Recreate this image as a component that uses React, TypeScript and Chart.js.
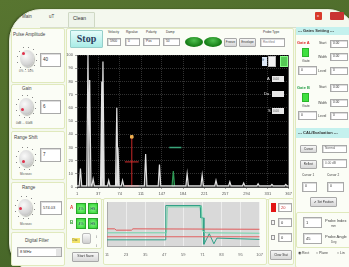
import React, { useEffect, useRef } from "react";
import { Chart, registerables } from "chart.js";
Chart.register(...registerables);

// ---------- A-scan data ----------
const peakPos = [6, 19, 22, 28, 43, 45, 55, 69, 71, 79, 119, 143, 191, 217, 241, 265, 289, 314, 338, 362];
const peakAmp = [14, 100, 81, 6, 80, 95, 5, 60, 30, 5, 25, 17, 10, 9, 5, 4, 3, 2.5, 2, 2];
const gatedPeakPos = [167];
const gatedPeakAmp = [12];
const ascanXTicks = [0, 37, 74, 111, 147, 184, 221, 257, 294, 331, 367];
const ascanXLabels = ["1", "37", "74", "111", "147", "184", "221", "257", "294", "331", "367"];
const cursorPos = [95];
const cursorAmp = [38];
const gateA = [83, 107, 19]; // start, end, level
const gateB = [160, 181, 30];

// ---------- trend data ----------
const redHiX = [0, 5, 6, 16, 17, 100];
const redHiY = [39, 39, 36, 36, 39, 38];
const redLoX = [0, 100];
const redLoY = [21, 21];
const tealAX = [0, 38, 38.5, 61, 61.5, 63, 63.5, 67, 70, 72, 100];
const tealAY = [14, 14, 92, 92, 64, 64, 4, 28, 5, 18, 15];
const tealBX = [0, 39, 39.5, 62, 62.5, 65, 100];
const tealBY = [30, 30, 89, 89, 34, 30, 29];
const trendXTicks = [0, 12.5, 25, 37.5, 50, 62.5, 75, 87.5, 100];
const trendXLabels = ["11", "23", "35", "47", "59", "71", "83", "95", "107"];

Chart.defaults.font.family = '"Liberation Sans", Arial, sans-serif';

const bgPlugin = {
  id: "areaBg",
  beforeDraw(chart: any, _a: any, opts: any) {
    const { ctx, chartArea: a } = chart;
    ctx.save();
    ctx.fillStyle = opts.color;
    ctx.fillRect(a.left, a.top, a.width, a.height);
    ctx.restore();
  },
};

function AScan() {
  const ref = useRef<HTMLCanvasElement>(null);
  useEffect(() => {
    const hw = 2.2;
    const base = 0.8;
    const idx = peakPos.map((_, i) => i).sort((a, b) => peakPos[a] - peakPos[b]);
    const wave: any[] = [{ x: 0, y: base }];
    idx.forEach((i) => {
      wave.push({ x: peakPos[i] - hw, y: base }, { x: peakPos[i], y: peakAmp[i] }, { x: peakPos[i] + hw, y: base });
    });
    wave.push({ x: 367, y: base });
    const gp: any[] = [];
    gatedPeakPos.forEach((p, i) => gp.push({ x: p - hw, y: base }, { x: p, y: gatedPeakAmp[i] }, { x: p + hw, y: base }));
    const chart = new Chart(ref.current!, {
      type: "line",
      data: {
        datasets: [
          { data: wave, borderColor: "#e2e2e2", borderWidth: 1.2, pointRadius: 0, fill: "origin", backgroundColor: "rgba(210,210,210,0.35)" },
          { data: gp, borderColor: "#2f9a55", borderWidth: 1.2, pointRadius: 0, fill: "origin", backgroundColor: "rgba(47,154,85,0.35)" },
          { data: [{ x: gateA[0], y: 1 }, { x: gateA[1], y: 1 }], borderColor: "#8a1a1a", borderWidth: 1.5, pointRadius: 0 },
          { data: [{ x: gateA[0], y: gateA[2] }, { x: gateA[1], y: gateA[2] }], borderColor: "#d83030", borderWidth: 1, pointRadius: 0 },
          {
            data: [{ x: cursorPos[0], y: 0 }, { x: cursorPos[0], y: cursorAmp[0] }],
            borderColor: "#c82828", borderWidth: 1, pointRadius: [0, 1.8], pointStyle: "rect",
            pointBackgroundColor: "#f0b050", pointBorderColor: "#f0b050",
          },
          { data: [{ x: gateB[0], y: gateB[2] }, { x: gateB[1], y: gateB[2] }], borderColor: "#3aa57a", borderWidth: 1.5, pointRadius: 0 },
        ],
      },
      options: {
        animation: false, responsive: false, events: [],
        layout: { padding: { top: 5, right: 3, left: 0, bottom: 0 } },
        plugins: { legend: { display: false }, tooltip: { enabled: false }, areaBg: { color: "#000" } } as any,
        scales: {
          x: {
            type: "linear", min: 0, max: 367,
            afterBuildTicks: (ax: any) => { ax.ticks = ascanXTicks.map((v) => ({ value: v })); },
            afterFit: (s: any) => { s.height = 13; },
            ticks: { font: { size: 4 }, color: "#555", padding: 2, maxRotation: 0, autoSkip: false,
              callback: (v: any) => ascanXLabels[ascanXTicks.indexOf(v)] ?? "" },
            grid: { color: "rgba(90,90,90,0.55)", tickLength: 2 },
            border: { color: "#444", dash: [1, 1] },
          },
          y: {
            min: 0, max: 100,
            afterFit: (s: any) => { s.width = 15; },
            ticks: { stepSize: 10, font: { size: 4 }, color: "#555", padding: 2 },
            grid: { color: "rgba(90,90,90,0.55)", tickLength: 2 },
            border: { color: "#444", dash: [1, 1] },
          },
        },
      },
      plugins: [bgPlugin],
    });
    return () => chart.destroy();
  }, []);
  return <canvas ref={ref} width={232} height={150} style={{ position: "absolute", left: 62, top: 50, width: 232, height: 150 }} />;
}

function Trend() {
  const ref = useRef<HTMLCanvasElement>(null);
  useEffect(() => {
    const pts = (xs: number[], ys: number[]) => xs.map((x, i) => ({ x, y: ys[i] }));
    const chart = new Chart(ref.current!, {
      type: "line",
      data: {
        datasets: [
          { data: pts(redHiX, redHiY), borderColor: "#e05a5a", borderWidth: 1, pointRadius: 0 },
          { data: pts(redLoX, redLoY), borderColor: "#e06060", borderWidth: 1, pointRadius: 0 },
          { data: pts(tealBX, tealBY), borderColor: "#6fd3a8", borderWidth: 1, pointRadius: 0 },
          { data: pts(tealAX, tealAY), borderColor: "#2f9f86", borderWidth: 1, pointRadius: 0 },
        ],
      },
      options: {
        animation: false, responsive: false, events: [],
        layout: { padding: { top: 5, right: 4, left: 0, bottom: 0 } },
        plugins: { legend: { display: false }, tooltip: { enabled: false }, areaBg: { color: "#d9d9d9" } } as any,
        scales: {
          x: {
            type: "linear", min: 0, max: 100,
            afterBuildTicks: (ax: any) => { ax.ticks = trendXTicks.map((v) => ({ value: v })); },
            afterFit: (s: any) => { s.height = 14; },
            ticks: { font: { size: 4 }, color: "#666", padding: 4, maxRotation: 0, autoSkip: false,
              callback: (v: any) => trendXLabels[trendXTicks.indexOf(v)] ?? "" },
            grid: { color: "rgba(255,255,255,0.5)", tickLength: 2 },
            border: { color: "#aaa" },
          },
          y: {
            min: 0, max: 100,
            afterFit: (s: any) => { s.width = 11; },
            ticks: { stepSize: 20, font: { size: 4 }, color: "#666", padding: 2 },
            grid: { display: false },
            border: { color: "#aaa" },
          },
        },
      },
      plugins: [bgPlugin],
    });
    return () => chart.destroy();
  }, []);
  return <canvas ref={ref} width={171} height={63} style={{ position: "absolute", left: 96, top: 197, width: 171, height: 63 }} />;
}

const FF = '"Liberation Sans", Arial, sans-serif';

function T({ x, y, t, s = 4, c = "#333", b = false, f = FF }: any) {
  return <div style={{ position: "absolute", left: x, top: y, fontSize: s, color: c, whiteSpace: "nowrap", lineHeight: 1, fontWeight: b ? "bold" : "normal", fontFamily: f }}>{t}</div>;
}
function R({ x, y, w, h, bg = "transparent", bd, r = 0, sh, children }: any) {
  return <div style={{ position: "absolute", left: x, top: y, width: w, height: h, background: bg, border: bd ? `1px solid ${bd}` : undefined, borderRadius: r, boxSizing: "border-box", boxShadow: sh }}>{children}</div>;
}
function Inp({ x, y, w, h, t, s = 4.5, c = "#333" }: any) {
  return (
    <R x={x} y={y} w={w} h={h} bg="#fff" bd="#a9a9a9" sh="inset 1px 1px 0 #ddd">
      <div style={{ position: "absolute", left: 2, top: (h - s) / 2 - 1, fontSize: s, lineHeight: 1, color: c, fontFamily: FF, whiteSpace: "nowrap" }}>{t}</div>
    </R>
  );
}
function Btn({ x, y, w, h, t, s = 3.5 }: any) {
  return (
    <R x={x} y={y} w={w} h={h} bg="linear-gradient(#f6f6f6,#d8d8d8)" bd="#a8a8a8" r={1}>
      <div style={{ position: "absolute", left: 0, right: 0, top: (h - s) / 2 - 1, textAlign: "center", fontSize: s, lineHeight: 1, color: "#333", fontFamily: FF, whiteSpace: "nowrap" }}>{t}</div>
    </R>
  );
}
function Panel({ x, y, w, h }: any) {
  return <R x={x} y={y} w={w} h={h} bg="#fbfdf6" bd="#e0e9bd" r={2} />;
}
const tickAngles = [-140, -110, -80, -50, -20, 10, 40, 70, 100, 130, 160, 190];
function Knob({ x, y, dx, dy }: any) {
  return (
    <div style={{ position: "absolute", left: x, top: y, width: 20, height: 23 }}>
      {tickAngles.map((a, i) => (
        <div key={i} style={{ position: "absolute", left: 10 + 10 * Math.cos((a * Math.PI) / 180) - 0.5, top: 11.5 + 11.5 * Math.sin((a * Math.PI) / 180) - 0.5, width: 1, height: 1, background: "#888" }} />
      ))}
      <div style={{ position: "absolute", left: 3, top: 3, width: 14, height: 17, borderRadius: "50%", background: "radial-gradient(circle at 40% 35%, #fafafa, #d5d5d5 60%, #a9a9a9)", boxShadow: "1px 1px 1px rgba(0,0,0,0.25)" }} />
      <div style={{ position: "absolute", left: dx, top: dy, width: 3, height: 3, borderRadius: "50%", background: "#e0304a" }} />
    </div>
  );
}
function Green({ x, y, w, h, t }: any) {
  return (
    <R x={x} y={y} w={w} h={h} bg="radial-gradient(circle, #8cf58c, #2fd52f)" bd="#27a827">
      <div style={{ position: "absolute", left: 0, right: 0, top: h / 2 - 2, textAlign: "center", fontSize: 3.5, lineHeight: 1, color: "#245", fontFamily: FF }}>{t}</div>
    </R>
  );
}

export default function App() {
  return (
    <div style={{ position: "fixed", left: 0, top: 0, width: 349, height: 267, overflow: "hidden", background: "linear-gradient(160deg,#587530,#4a6a2a 60%,#3e5a24)", fontFamily: FF }}>
      {/* window */}
      <div style={{ position: "absolute", left: 9, top: 9, width: 345, height: 262, borderRadius: "32px 28px 32px 30px", background: "#f4f8ee", border: "1px solid #e8eedc", boxShadow: "-1px 0 2px rgba(0,0,0,0.35)" }} />
      {/* tabs */}
      <R x={40} y={26.5} w={300} h={1} bg="#d8dfcc" />
      <T x={22} y={15} t="Main" s={4.5} c="#444" />
      <T x={49} y={15} t="uT" s={4.5} c="#444" />
      <R x={68} y={12} w={27} h={16} bg="#eef4ea" bd="#cfd8c4" r={1} />
      <T x={73} y={16} t="Clean" s={5} c="#333" />
      {/* close buttons */}
      <R x={315} y={12} w={7} h={8} bg="#d83a2a" r={1} />
      <T x={317} y={14} t="x" s={4} c="#fff" />
      <R x={330} y={12} w={14} h={8} bg="#c93333" r={1} />

      {/* left column */}
      <Panel x={11} y={28} w={54} h={55} />
      <T x={13} y={33} t="Pulse Amplitude" s={4.5} c="#444" />
      <Knob x={17} y={47} dx={5} dy={5} />
      <Inp x={40} y={53} w={21} h={14} t="40" />
      <T x={19} y={70} t="0% ... 10%" s={3} c="#555" />

      <Panel x={11} y={84} w={54} h={45} />
      <T x={22} y={87} t="Gain" s={4.5} c="#444" />
      <Knob x={16} y={95} dx={5} dy={13} />
      <Inp x={40} y={100} w={21} h={14} t="6" />
      <T x={16} y={122} t="0dB ... 60dB" s={3} c="#555" />

      <Panel x={11} y={131} w={54} h={49} />
      <T x={14} y={136} t="Range Shift" s={4.5} c="#444" />
      <Knob x={16} y={147} dx={6} dy={13} />
      <Inp x={40} y={148} w={21} h={14} t="7" />
      <T x={20} y={173} t="Microsec" s={3} c="#555" />

      <Panel x={11} y={182} w={54} h={48} />
      <T x={22} y={186} t="Range" s={4.5} c="#444" />
      <Knob x={15} y={196} dx={4} dy={11} />
      <Inp x={40} y={201} w={22} h={14} t="574.03" s={4} />
      <T x={20} y={223} t="Microsec" s={3} c="#555" />

      <Panel x={11} y={232} w={54} h={34} />
      <T x={25} y={239} t="Digital Filter" s={4.5} c="#444" />
      <Inp x={17} y={247} w={45} h={10} t="8 MHz" s={4} />
      <R x={56} y={248} w={5} h={8} bg="#e4e4e4" />

      {/* main header */}
      <Panel x={66} y={28} w={228} h={172} />
      <R x={70} y={30} w={33} h={18} bg="linear-gradient(#e6fdfb,#a9ece6)" bd="#96cfca" r={1}>
        <div style={{ position: "absolute", left: 0, right: 0, top: 3, textAlign: "center", fontSize: 10, lineHeight: 1, fontWeight: "bold", color: "#2b3d5e", fontFamily: '"Liberation Serif", serif' }}>Stop</div>
      </R>
      <T x={108} y={31} t="Velocity" s={3.2} c="#333" />
      <T x={126} y={31} t="Rgvalue" s={3.2} c="#333" />
      <T x={146} y={31} t="Polarity" s={3.2} c="#333" />
      <T x={166} y={31} t="Damp" s={3.2} c="#333" />
      <Inp x={107} y={38} w={14} h={8} t="5900" s={3.2} />
      <Inp x={125} y={38} w={15} h={8} t="0" s={3.2} />
      <Inp x={143} y={38} w={17} h={8} t="Pos" s={3.2} />
      <Inp x={163} y={38} w={17} h={8} t="50" s={3.2} />
      <div style={{ position: "absolute", left: 185, top: 37, width: 18, height: 10, borderRadius: "50%", background: "radial-gradient(ellipse at 50% 35%, #4fc04f, #137a13 70%)" }} />
      <div style={{ position: "absolute", left: 204, top: 37, width: 18, height: 10, borderRadius: "50%", background: "radial-gradient(ellipse at 50% 35%, #4fc04f, #137a13 70%)" }} />
      <Btn x={224} y={38} w={13} h={9} t="Freeze" s={3} />
      <Btn x={239} y={38} w={17} h={9} t="Envelope" s={3} />
      <T x={263} y={31} t="Probe Type" s={3.2} c="#333" />
      <Inp x={260} y={38} w={25} h={9} t="Rectified" s={3} c="#777" />

      <AScan />
      {/* overlays in plot */}
      <R x={262} y={57} w={5} h={9} bg="#dde8f5" />
      <T x={262.5} y={59} t="fr" s={3} c="#246" />
      <R x={268} y={56} w={8} h={11} bg="#f2f2f2" bd="#bbb" />
      <R x={280} y={56} w={8} h={11} bg="#55c955" bd="#8f8" />
      <T x={267} y={77} t="A" s={4} c="#eee" />
      <R x={272} y={76} w={12} h={6} bg="#e8e8e8" />
      <T x={273} y={77.5} t="0.00" s={3} c="#555" />
      <T x={264} y={92} t="Da" s={4} c="#eee" />
      <R x={272} y={91} w={12} h={6} bg="#e8e8e8" />
      <T x={268} y={109} t="S" s={4} c="#eee" />
      <R x={272} y={108} w={12} h={6} bg="#e8e8e8" />
      <T x={273} y={109.5} t="0.00" s={3} c="#555" />

      {/* lower left panel */}
      <Panel x={66} y={198} w={36} h={51} />
      <T x={70} y={206} t="A" s={4.5} c="#e03030" b />
      <Green x={76} y={203} w={10} h={11} t="4%" />
      <Green x={88} y={203} w={10} h={11} t="HS" />
      <T x={70} y={221} t="B" s={4.5} c="#2a9a2a" b />
      <Green x={76} y={218} w={10} h={11} t="4%" />
      <Green x={88} y={218} w={10} h={11} t="HS" />
      <R x={72} y={238} w={8} h={5} bg="#f3e36a" />
      <T x={72.5} y={239} t="Dac" s={3} c="#664" />
      <R x={82} y={233} w={9} h={11} bg="linear-gradient(#fafafa,#cfcfcf)" bd="#bbb" r={2} />
      <Btn x={72} y={252} w={27} h={10} t="Start Save" />

      <Panel x={103} y={198} w={164} h={67} />
      <Trend />

      {/* lower right small panel */}
      <Panel x={268} y={198} w={26} h={67} />
      <R x={271} y={203} w={5} h={9} bg="#e21515" />
      <Inp x={278} y={203} w={14} h={9} t="20" s={4} c="#c33" />
      <R x={271} y={220} w={4} h={5} bg="#f4f4f4" bd="#999" />
      <Inp x={278} y={218} w={14} h={9} t="0" s={4} />
      <R x={271} y={235} w={4} h={5} bg="#f4f4f4" bd="#999" />
      <Inp x={278} y={233} w={14} h={9} t="0" s={4} />
      <Btn x={270} y={250} w={22} h={10} t="Clear Stat" s={3} />

      {/* right column */}
      <Panel x={295} y={28} w={58} h={240} />
      <R x={296} y={27} w={55} h={8} bg="#c5f1ee" />
      <T x={298} y={29} t="--- Gates Setting ---" s={4} c="#333" b />
      <T x={297} y={41} t="Gate A" s={4} c="#e02b2b" b />
      <R x={302} y={48} w={7} h={9} bg="#3fe03f" bd="#2ab52a" />
      <T x={302} y={60} t="Gate" s={3.5} c="#444" />
      <Inp x={298} y={66} w={19} h={9} t="0" s={3.5} />
      <T x={319} y={42} t="Start" s={3.5} c="#444" />
      <Inp x={330} y={40} w={18} h={8} t="0.00" s={3.2} />
      <T x={318} y={56} t="Width" s={3.5} c="#444" />
      <Inp x={330} y={53} w={18} h={8} t="0.00" s={3.2} />
      <T x={318} y={70} t="Level" s={3.5} c="#444" />
      <Inp x={330} y={67} w={18} h={8} t="0" s={3.2} />

      <T x={297} y={86} t="Gate B" s={4} c="#2aa04a" b />
      <T x={319} y={86} t="Start" s={3.5} c="#444" />
      <Inp x={330} y={84} w={18} h={8} t="0.00" s={3.2} />
      <R x={302} y={93} w={7} h={9} bg="#3fe03f" bd="#2ab52a" />
      <T x={302} y={105} t="Gate" s={3.5} c="#444" />
      <Inp x={298} y={111} w={19} h={9} t="0" s={3.5} />
      <T x={318} y={102} t="Width" s={3.5} c="#444" />
      <Inp x={330} y={99} w={18} h={8} t="0.00" s={3.2} />
      <T x={318} y={115} t="Level" s={3.5} c="#444" />
      <Inp x={330} y={112} w={18} h={8} t="0" s={3.2} />

      <R x={296} y={128} w={55} h={10} bg="#c5f1ee" />
      <T x={298} y={131} t="--- CAL/Evaluation ---" s={4} c="#333" b />
      <Btn x={300} y={145} w={17} h={8} t="Cursor" s={3} />
      <Inp x={322} y={145} w={25} h={8} t="Normal" s={3.2} c="#666" />
      <Btn x={300} y={160} w={17} h={9} t="Reflect" s={3} />
      <Inp x={322} y={159} w={25} h={9} t="0.00 dB" s={3.2} c="#666" />
      <T x={302} y={174} t="Cursor 1" s={3.2} c="#444" />
      <T x={327} y={174} t="Cursor 2" s={3.2} c="#444" />
      <Inp x={302} y={182} w={15} h={10} t="0" s={3.5} />
      <Inp x={327} y={182} w={17} h={10} t="0" s={3.5} />
      <Btn x={310} y={197} w={27} h={10} t="✔ Set Position" s={3} />

      <R x={296} y={212} w={55} h={36} bd="#e0e9bd" r={2} />
      <Inp x={303} y={217} w={19} h={11} t="1" s={4} />
      <T x={325} y={219} t="Probe Index" s={4} c="#444" />
      <T x={331} y={225} t="mm" s={3} c="#555" />
      <Inp x={303} y={233} w={19} h={11} t="45" s={4} />
      <T x={325} y={235} t="Probe Angle" s={4} c="#444" />
      <T x={331} y={241} t="Deg" s={3} c="#555" />
      <T x={298} y={252} t="◉ Rect" s={3.5} c="#444" />
      <T x={316} y={252} t="○ Plane" s={3.5} c="#444" />
      <T x={337} y={252} t="○ Lin" s={3.5} c="#444" />
    </div>
  );
}
